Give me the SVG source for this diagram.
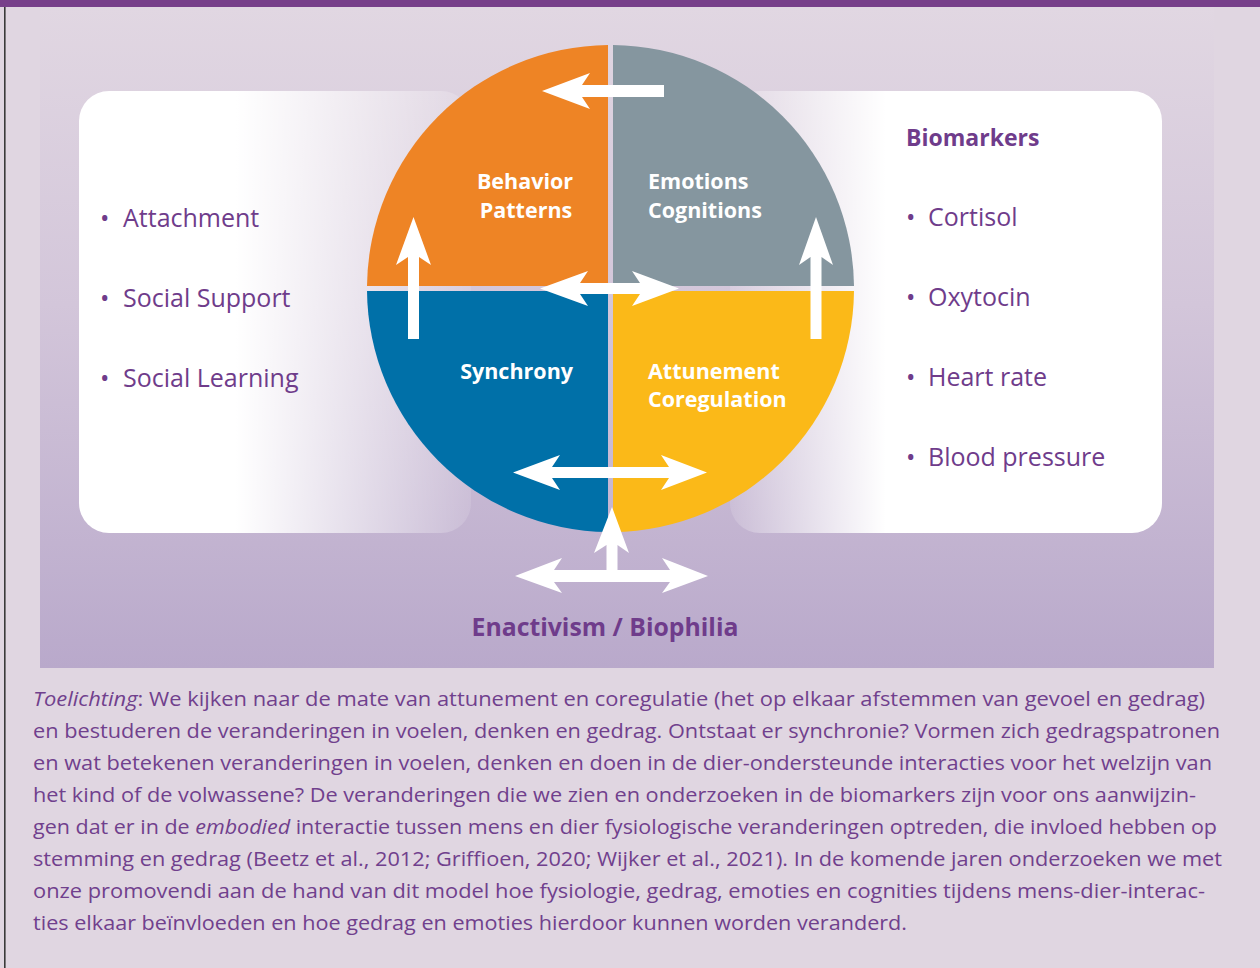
<svg xmlns="http://www.w3.org/2000/svg" width="1260" height="968" viewBox="0 0 1260 968">
<defs>
<linearGradient id="panelGrad" x1="0" y1="0" x2="0" y2="1">
<stop offset="0" stop-color="#e1d7e2"/>
<stop offset="0.45" stop-color="#d3c6da"/>
<stop offset="1" stop-color="#b9a9cb"/>
</linearGradient>
<linearGradient id="leftBoxGrad" x1="0" y1="0" x2="1" y2="0">
<stop offset="0" stop-color="#ffffff" stop-opacity="1"/>
<stop offset="0.4" stop-color="#ffffff" stop-opacity="1"/>
<stop offset="1" stop-color="#ffffff" stop-opacity="0.12"/>
</linearGradient>
<linearGradient id="rightBoxGrad" x1="0" y1="0" x2="1" y2="0">
<stop offset="0" stop-color="#ffffff" stop-opacity="0.12"/>
<stop offset="0.36" stop-color="#ffffff" stop-opacity="1"/>
<stop offset="1" stop-color="#ffffff" stop-opacity="1"/>
</linearGradient>
<style>
.q{font-family:"Open Sans","Noto Sans","DejaVu Sans",sans-serif;font-weight:700;font-size:21.5px;fill:#ffffff}
.li{font-family:"Open Sans","Noto Sans","DejaVu Sans",sans-serif;font-size:25px;fill:#6f3c8b}
.hd{font-family:"Open Sans","Noto Sans","DejaVu Sans",sans-serif;font-weight:700;font-size:23px;fill:#6f3c8b}
.en{font-family:"Open Sans","Noto Sans","DejaVu Sans",sans-serif;font-weight:700;font-size:24.8px;fill:#6f3c8b}
.p{font-family:"Open Sans","Noto Sans","DejaVu Sans",sans-serif;font-size:20.5px;fill:#70408d}
.it{font-style:italic}
.arr{fill:#ffffff}
</style>
</defs>
<rect x="0" y="0" width="1260" height="968" fill="#e0d6e1"/>
<rect x="0" y="0" width="1260" height="7" fill="#773f8a"/>
<rect x="4" y="7" width="1.6" height="961" fill="#3a3a3a"/>
<rect x="40" y="7" width="1174" height="661" fill="url(#panelGrad)"/>

<g id="left-box">
<rect x="79" y="91" width="392" height="442" rx="30" fill="url(#leftBoxGrad)"/>
<text class="li" x="100" y="227">•</text><text class="li" x="123" y="227">Attachment</text>
<text class="li" x="100" y="307">•</text><text class="li" x="123" y="307">Social Support</text>
<text class="li" x="100" y="387">•</text><text class="li" x="123" y="387">Social Learning</text>
</g>

<g id="right-box">
<rect x="730" y="91" width="432" height="442" rx="30" fill="url(#rightBoxGrad)"/>
<text class="hd" x="906" y="146">Biomarkers</text>
<text class="li" x="906" y="226">•</text><text class="li" x="928" y="226">Cortisol</text>
<text class="li" x="906" y="306">•</text><text class="li" x="928" y="306">Oxytocin</text>
<text class="li" x="906" y="386">•</text><text class="li" x="928" y="386">Heart rate</text>
<text class="li" x="906" y="466">•</text><text class="li" x="928" y="466">Blood pressure</text>
</g>

<g id="behavior">
<path d="M608,286 V45 A243.5,243.5 0 0 0 367,286 Z" fill="#ee8425"/>
<text class="q" x="525" y="189" text-anchor="middle">Behavior</text>
<text class="q" x="526" y="218" text-anchor="middle">Patterns</text>
</g>
<g id="emotions">
<path d="M613,286 V45 A243.5,243.5 0 0 1 854,286 Z" fill="#85969f"/>
<text class="q" x="648" y="189">Emotions</text>
<text class="q" x="648" y="218">Cognitions</text>
</g>
<g id="synchrony">
<path d="M608,291 H367 A243.5,243.5 0 0 0 608,532 Z" fill="#0070a8"/>
<text class="q" x="573" y="379" text-anchor="end">Synchrony</text>
</g>
<g id="attunement">
<path d="M613,291 H854 A243.5,243.5 0 0 1 613,532 Z" fill="#fbb918"/>
<text class="q" x="648" y="379">Attunement</text>
<text class="q" x="648" y="407">Coregulation</text>
</g>

<g id="connectors">
<polygon class="arr" points="542,91 590,73 582,85 664,85 664,97 582,97 590,109"/>
<polygon class="arr" points="413.5,217 431,265 419,257 419,339 408,339 408,257 396,265"/>
<polygon class="arr" points="816,217 833,265 821.5,257 821.5,339 810.5,339 810.5,257 799,265"/>
<polygon class="arr" points="540,288.5 588,271 580,283 640,283 632,271 679,288.5 632,306 640,294 580,294 588,306"/>
<polygon class="arr" points="513,472.5 560,455 552,467 669,467 661,455 707,472.5 661,490 669,478 552,478 560,490"/>
<polygon class="arr" points="612,507 629,553 617.5,545 617.5,576 606.5,576 606.5,545 594,553"/>
<polygon class="arr" points="515,576 562,558 554,570 670,570 662,558 708,576 662,593 670,582 554,582 562,593"/>
</g>

<g id="footer-label">
<text class="en" x="605" y="636" text-anchor="middle">Enactivism / Biophilia</text>
</g>

<g id="caption">
<text class="p" x="33" y="706" textLength="1172" lengthAdjust="spacingAndGlyphs"><tspan class="it">Toelichting</tspan>: We kijken naar de mate van attunement en coregulatie (het op elkaar afstemmen van gevoel en gedrag)</text>
<text class="p" x="33" y="738" textLength="1187" lengthAdjust="spacingAndGlyphs">en bestuderen de veranderingen in voelen, denken en gedrag. Ontstaat er synchronie? Vormen zich gedragspatronen</text>
<text class="p" x="33" y="770" textLength="1179" lengthAdjust="spacingAndGlyphs">en wat betekenen veranderingen in voelen, denken en doen in de dier-ondersteunde interacties voor het welzijn van</text>
<text class="p" x="33" y="802" textLength="1163" lengthAdjust="spacingAndGlyphs">het kind of de volwassene? De veranderingen die we zien en onderzoeken in de biomarkers zijn voor ons aanwijzin-</text>
<text class="p" x="33" y="834" textLength="1184" lengthAdjust="spacingAndGlyphs">gen dat er in de <tspan class="it">embodied</tspan> interactie tussen mens en dier fysiologische veranderingen optreden, die invloed hebben op</text>
<text class="p" x="33" y="866" textLength="1189" lengthAdjust="spacingAndGlyphs">stemming en gedrag (Beetz et al., 2012; Griffioen, 2020; Wijker et al., 2021). In de komende jaren onderzoeken we met</text>
<text class="p" x="33" y="898" textLength="1172" lengthAdjust="spacingAndGlyphs">onze promovendi aan de hand van dit model hoe fysiologie, gedrag, emoties en cognities tijdens mens-dier-interac-</text>
<text class="p" x="33" y="930" textLength="874" lengthAdjust="spacingAndGlyphs">ties elkaar beïnvloeden en hoe gedrag en emoties hierdoor kunnen worden veranderd.</text>
</g>
</svg>
